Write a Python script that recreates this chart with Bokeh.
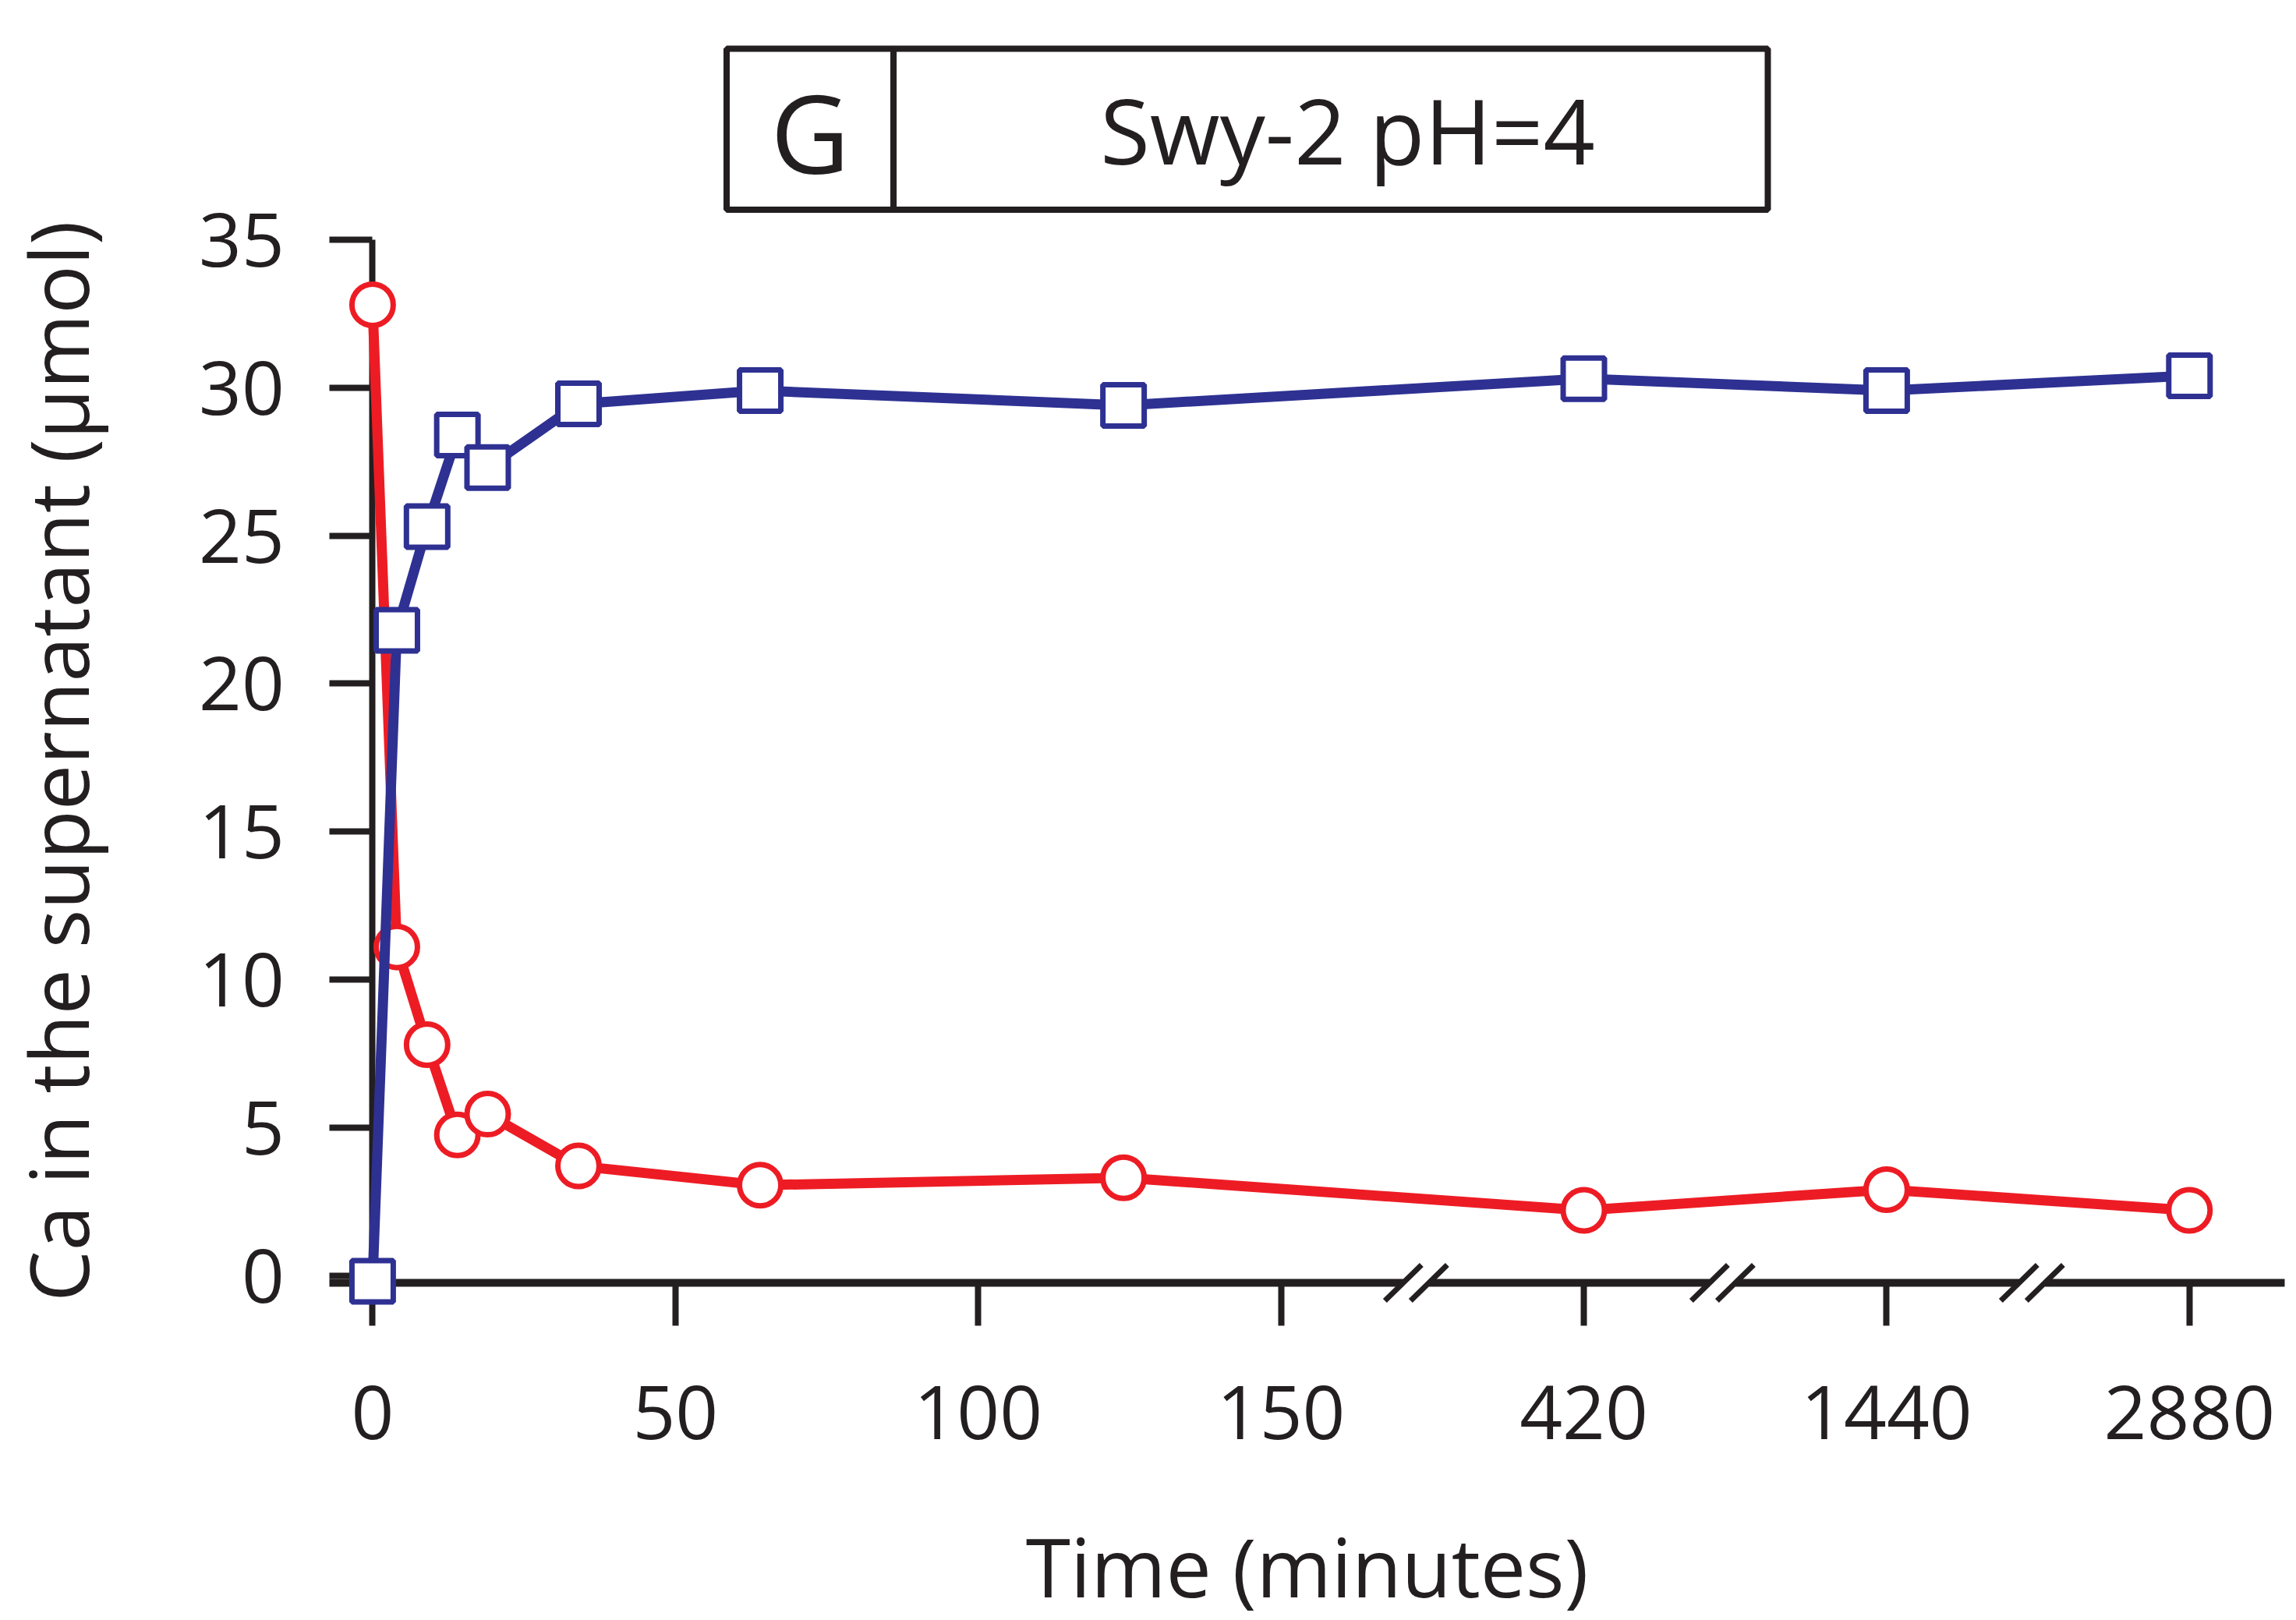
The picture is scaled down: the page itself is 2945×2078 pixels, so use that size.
from bokeh.plotting import figure
from bokeh.models import FixedTicker, Range1d
from bokeh.embed import file_html
from bokeh.resources import INLINE
from bokeh.core.properties import value

# ---------------- data ----------------
time_min = [0, 4, 9, 14, 19, 34, 64, 124, 420, 1440, 2880]
ca_red = [32.8, 11.1, 7.8, 4.75, 5.45, 3.7, 3.05, 3.3, 2.2, 2.9, 2.2]
ca_blue = [-0.2, 21.8, 25.3, 28.4, 27.3, 29.45, 29.9, 29.4, 30.3, 29.9, 30.4]

x_tick_values = [0, 50, 100, 150, 420, 1440, 2880]
y_tick_values = [0, 5, 10, 15, 20, 25, 30, 35]

panel_letter = "G"
panel_title = "Swy-2 pH=4"
x_title = "Time (minutes)"
y_title = "Ca in the supernatant (\u03bcmol)"

# ---------------- broken time axis ----------------
LINEAR_MAX = 150          # linear part of the axis
SLOT = 50                 # width of each slot after the break
late_times = [420, 1440, 2880]


def to_pos(t):
    if t <= LINEAR_MAX:
        return t
    return LINEAR_MAX + SLOT * (late_times.index(t) + 1)


x_red = [to_pos(t) for t in time_min]
x_blue = [to_pos(t) for t in time_min]
tick_pos = [to_pos(t) for t in x_tick_values]
tick_labels = {int(to_pos(t)): str(t) for t in x_tick_values}

# ---------------- layout (pixel geometry) ----------------
W, H = 2945, 2078
X0_PX, KX = 477.4, 7.768      # pixel of t=0, px per unit
Y0_PX, KY = 1635.5, 37.96     # pixel of value 0, px per unit


def px2x(px):
    return (px - X0_PX) / KX


def px2y(py):
    return (Y0_PX - py) / KY


AX_Y = -0.25  # y location of the time axis
BLACK = "#231F20"
RED = "#ED1C24"
BLUE = "#2E3192"
FONT = "Open Sans"

p = figure(width=W, height=H, output_backend="svg", toolbar_location=None,
           x_range=Range1d(px2x(0), px2x(W)), y_range=Range1d(px2y(H), px2y(0)),
           min_border=0, min_border_left=0, min_border_right=0,
           min_border_top=0, min_border_bottom=0)
p.outline_line_color = None
p.xgrid.visible = False
p.ygrid.visible = False
p.background_fill_color = "white"

# x axis
xa = p.xaxis[0]
xa.fixed_location = AX_Y
xa.bounds = (px2x(422), px2x(2930))
xa.ticker = FixedTicker(ticks=tick_pos)
xa.major_label_overrides = tick_labels
xa.axis_line_width = 10
xa.axis_line_color = BLACK
xa.major_tick_line_width = 8
xa.major_tick_line_color = BLACK
xa.major_tick_out = 55
xa.major_tick_in = 0
xa.minor_tick_line_color = None
xa.major_label_text_font = FONT
xa.major_label_text_font_size = "96px"
xa.major_label_text_color = BLACK
xa.major_label_standoff = 77
xa.axis_label = x_title
xa.axis_label_text_font = FONT
xa.axis_label_text_font_size = "104px"
xa.axis_label_text_font_style = "normal"
xa.axis_label_text_color = BLACK
xa.axis_label_standoff = 88

# y axis
ya = p.yaxis[0]
ya.fixed_location = 0
ya.bounds = (AX_Y, 35)
ya.ticker = FixedTicker(ticks=y_tick_values)
ya.axis_line_width = 8
ya.axis_line_color = BLACK
ya.major_tick_line_width = 8
ya.major_tick_line_color = BLACK
ya.major_tick_out = 55
ya.major_tick_in = 0
ya.minor_tick_line_color = None
ya.major_label_text_font = FONT
ya.major_label_text_font_size = "96px"
ya.major_label_text_color = BLACK
ya.major_label_standoff = 58
ya.axis_label = y_title
ya.axis_label_text_font = FONT
ya.axis_label_text_font_size = "104px"
ya.axis_label_text_font_style = "normal"
ya.axis_label_text_color = BLACK
ya.axis_label_standoff = 108

# axis break marks
break_pos = [172.3, 222.9, 274.0]
half_gap = 16.5 / KX
sx, sy = 23.5 / KX, 23.0 / KY
p.segment(x0=[b - half_gap for b in break_pos], y0=[AX_Y] * 3,
          x1=[b + half_gap for b in break_pos], y1=[AX_Y] * 3,
          line_color="white", line_width=18, level="overlay")
sl_x0, sl_y0, sl_x1, sl_y1 = [], [], [], []
for b in break_pos:
    for c in (b - half_gap, b + half_gap):
        sl_x0.append(c - sx)
        sl_y0.append(AX_Y - sy)
        sl_x1.append(c + sx)
        sl_y1.append(AX_Y + sy)
p.segment(x0=sl_x0, y0=sl_y0, x1=sl_x1, y1=sl_y1, line_color=BLACK,
          line_width=7, level="overlay")

# title box
box_l, box_m, box_r = px2x(931.5), px2x(1145.6), px2x(2267)
box_t, box_b = px2y(62), px2y(268.6)
p.quad(left=[box_l, box_m], right=[box_m, box_r], top=[box_t] * 2,
       bottom=[box_b] * 2, fill_color="white", line_color=BLACK, line_width=8)
p.text(x=[(box_l + box_m) / 2], y=[px2y(168)], text=[panel_letter],
       text_font=value(FONT), text_font_size="140px", text_align="center",
       text_baseline="middle", text_color=BLACK)
p.text(x=[px2x(1728)], y=[px2y(165)], text=[panel_title],
       text_font=value(FONT), text_font_size="116px", text_align="center",
       text_baseline="middle", text_color=BLACK)

# data series
p.line(x_red, ca_red, line_color=RED, line_width=13, level="overlay")
p.scatter(x_red, ca_red, marker="circle", size=53, fill_color="white",
          line_color=RED, line_width=7, level="overlay")
p.line(x_blue, ca_blue, line_color=BLUE, line_width=13, level="overlay")
p.scatter(x_blue, ca_blue, marker="square", size=53, fill_color="white",
          line_color=BLUE, line_width=7, level="overlay")

open("out.html", "w").write(file_html(p, INLINE))
